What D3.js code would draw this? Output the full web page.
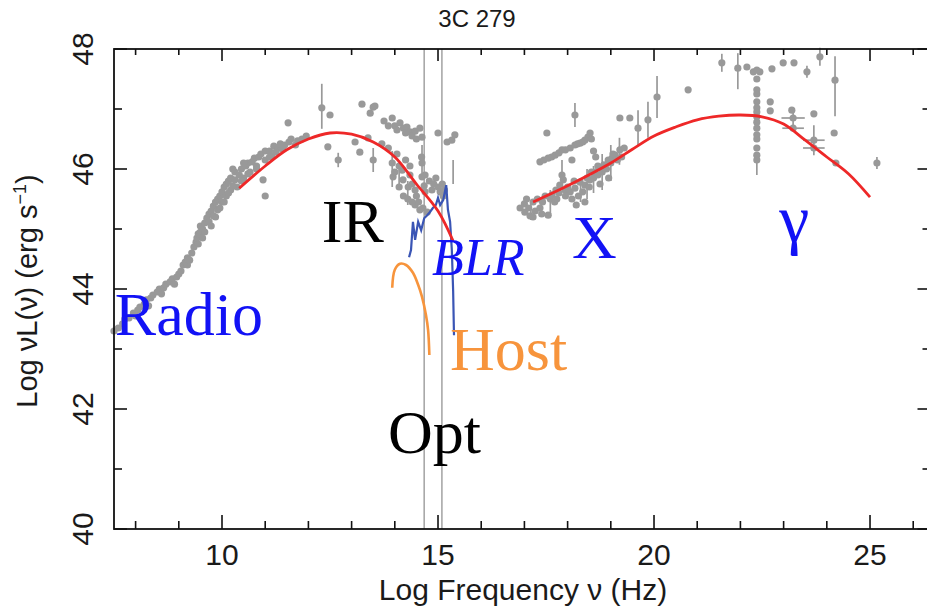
<!DOCTYPE html>
<html>
<head>
<meta charset="utf-8">
<script src="https://cdn.jsdelivr.net/npm/d3@7"></script>
<style>
  html, body { margin: 0; padding: 0; background: #fff; }
  svg { display: block; }
</style>
</head>
<body>
<div id="chart"></div>
<script>
// SED of 3C 279: log frequency (Hz) vs log nu L(nu) (erg/s)

const sedPoints = [
  [7.5, 43.3], [7.6, 43.35], [7.7, 43.42], [7.75, 43.5], [7.85, 43.52], [7.95, 43.6],
  [8.05, 43.65], [8.1, 43.7], [8.2, 43.75], [8.25, 43.82], [8.35, 43.85], [8.4, 43.9],
  [8.5, 43.95], [8.55, 44.0], [8.65, 44.02], [8.7, 44.08], [8.8, 44.12], [8.85, 44.17],
  [8.95, 44.2], [9.0, 44.25], [9.05, 44.3], [9.1, 44.4], [9.15, 44.45], [9.2, 44.52],
  [9.2, 44.4], [9.3, 44.6], [9.35, 44.7], [9.4, 44.78], [9.42, 44.85], [9.45, 44.92],
  [9.5, 44.95], [9.5, 45.05], [9.55, 45.0], [9.6, 45.1], [9.6, 44.95], [9.65, 45.18],
  [9.7, 45.25], [9.7, 45.12], [9.75, 45.3], [9.8, 45.38], [9.8, 45.22], [9.85, 45.45],
  [9.9, 45.5], [9.9, 45.32], [9.95, 45.55], [10.0, 45.62], [10.0, 45.45], [10.05, 45.7],
  [10.1, 45.75], [10.1, 45.55], [10.15, 45.8], [10.2, 45.65], [10.2, 45.85], [10.3, 45.82],
  [10.3, 45.95], [10.35, 45.7], [10.4, 45.9], [10.45, 46.0], [10.5, 45.85], [10.55, 46.05],
  [10.6, 46.1], [10.65, 45.95], [10.7, 46.12], [10.75, 46.18], [10.8, 46.05], [10.85, 46.2],
  [10.9, 46.25], [11.0, 46.15], [11.0, 46.3], [11.1, 46.3], [11.15, 46.22], [11.2, 46.38],
  [11.3, 46.35], [11.35, 46.42], [11.45, 46.4], [11.55, 46.45], [11.6, 46.5], [11.75, 46.47],
  [11.85, 46.5], [11.95, 46.55],
  [8.0, 43.55], [8.3, 43.72], [8.6, 43.92], [8.9, 44.08], [9.25, 44.48], [9.45, 44.75],
  [9.55, 44.85], [9.75, 45.05], [9.85, 45.2], [9.95, 45.35], [10.05, 45.45], [10.15, 45.6],
  [10.25, 45.72], [10.45, 45.8], [10.6, 45.92], [10.8, 46.0], [11.1, 46.2], [11.25, 46.28],
  [11.4, 46.33], [11.7, 46.4], [10.5, 46.1], [10.25, 46.0],
  [10.95, 45.82], [11.0, 45.55], [11.53, 46.77], [12.31, 47.02], [12.5, 46.9], [12.45, 46.37],
  [12.69, 46.15], [13.08, 46.45], [13.19, 46.28], [13.24, 47.08], [13.43, 46.93], [13.5, 47.03],
  [13.54, 47.05], [13.5, 46.15], [13.38, 46.52], [13.94, 46.85], [14.12, 46.77], [14.28, 46.7],
  [14.35, 46.62], [14.47, 46.63], [14.58, 46.68], [14.63, 46.53], [13.94, 46.1], [13.96, 45.87],
  [14.17, 45.98], [14.19, 45.82], [14.31, 45.7], [14.47, 45.65], [14.4, 45.75], [14.63, 46.1],
  [14.63, 45.87], [14.68, 45.72], [14.7, 45.62], [14.86, 45.65], [15.0, 45.7], [15.05, 45.62],
  [15.0, 46.6], [15.21, 46.45], [15.32, 46.48], [15.39, 46.57], [14.47, 45.4], [14.58, 45.32],
  [14.65, 45.35], [14.75, 45.28], [14.55, 45.45], [14.62, 46.2], [14.7, 45.9], [14.8, 45.8],
  [14.9, 45.75], [14.95, 45.85], [15.1, 45.75], [15.15, 45.65], [15.12, 45.55],
  [13.7, 46.42], [13.85, 46.35], [14.05, 46.25], [14.25, 46.15], [14.35, 46.05],
  [13.75, 46.8], [13.85, 46.72], [14.0, 46.72], [14.05, 46.65], [14.2, 46.68], [14.25, 46.6],
  [14.4, 46.55], [14.5, 46.5], [14.1, 45.7], [14.2, 45.55], [14.3, 45.5], [14.4, 45.45],
  [14.5, 45.55], [14.35, 45.9], [14.0, 45.95], [14.1, 46.05],
  // X-ray
  [17.36, 46.12], [17.45, 46.15], [17.55, 46.18], [17.63, 46.2], [17.71, 46.23], [17.8, 46.27],
  [17.87, 46.32], [17.95, 46.32], [18.06, 46.35], [18.1, 46.15], [18.17, 46.4], [18.23, 46.42],
  [18.29, 46.43], [18.35, 46.45], [18.4, 46.48], [18.47, 46.53], [18.52, 46.6], [18.55, 46.5],
  [18.6, 46.3], [18.65, 46.2],
  [17.52, 46.6], [18.17, 46.9], [19.21, 46.85], [19.44, 46.85], [19.63, 46.68], [19.86, 46.82],
  [20.07, 47.2], [20.79, 47.32],
  [16.9, 45.35], [17.0, 45.42], [17.01, 45.28], [17.1, 45.35], [17.13, 45.22], [17.2, 45.45],
  [17.25, 45.3], [17.3, 45.5], [17.36, 45.35], [17.42, 45.45], [17.48, 45.55], [17.55, 45.23],
  [17.6, 45.5], [17.64, 45.57], [17.7, 45.45], [17.73, 45.65], [17.8, 45.6], [17.82, 45.73],
  [17.87, 45.9], [17.9, 45.82], [17.94, 45.65], [18.0, 45.7], [18.06, 45.62], [18.1, 45.5],
  [18.17, 45.68], [18.25, 45.55], [18.29, 45.78], [18.35, 45.62], [18.4, 45.73], [18.5, 45.7],
  [18.52, 45.82], [18.6, 45.85], [18.63, 45.95], [18.7, 45.9], [18.75, 46.02], [18.8, 45.95],
  [18.84, 46.07], [18.9, 46.0], [18.94, 46.15], [19.0, 46.1], [19.03, 46.18], [19.1, 46.23],
  [19.15, 46.15], [19.21, 46.32], [19.31, 46.35],
  [17.05, 45.5], [17.2, 45.2], [17.4, 45.25], [17.75, 45.5], [17.95, 45.55], [18.15, 45.8],
  [18.45, 45.85], [18.55, 45.95], [18.7, 46.05], [19.05, 46.25], [19.25, 46.2], [18.95, 45.85],
  [18.75, 45.75], [18.4, 45.45], [18.2, 45.4],
  // gamma-ray
  [21.57, 47.77], [21.94, 47.68], [22.15, 47.7], [22.3, 47.62], [22.45, 47.62],
  [22.38, 47.65], [22.38, 47.5], [22.38, 47.32], [22.38, 47.25], [22.38, 47.12], [22.38, 47.02],
  [22.38, 46.95], [22.38, 46.87], [22.38, 46.78], [22.38, 46.68], [22.38, 46.57], [22.38, 46.5],
  [22.38, 46.35], [22.38, 46.23], [22.38, 46.15],
  [22.73, 47.67], [22.99, 47.77], [23.24, 47.77], [23.54, 47.62], [23.84, 47.87], [24.19, 47.48],
  [22.69, 47.12], [22.69, 46.97], [23.22, 46.85], [23.22, 46.68], [23.19, 46.98], [23.7, 46.48],
  [23.7, 46.35], [23.7, 46.92], [24.17, 46.6], [24.21, 46.1], [25.16, 46.1]
]

// vertical error bars: [logNu, logL, minus, plus]
const sedErrY = [
  [12.31, 47.02, 0.35, 0.4], [12.69, 46.15, 0.12, 0.12], [13.5, 46.15, 0.2, 0.2],
  [13.94, 46.0, 0.3, 0.3], [14.63, 46.1, 0.25, 0.3], [15.35, 45.95, 0.2, 0.2],
  [14.3, 45.6, 0.2, 0.2], [14.1, 45.85, 0.2, 0.2],
  [17.15, 45.3, 0.15, 0.15], [17.87, 45.9, 0.25, 0.25], [18.17, 46.9, 0.2, 0.2],
  [18.6, 45.85, 0.25, 0.2], [18.8, 45.95, 0.3, 0.3], [19.0, 46.1, 0.3, 0.3],
  [19.2, 46.32, 0.25, 0.2], [19.63, 46.68, 0.3, 0.3], [19.86, 46.82, 0.3, 0.3],
  [18.45, 45.75, 0.25, 0.25], [17.6, 45.45, 0.2, 0.2], [18.3, 45.65, 0.2, 0.2],
  [20.07, 47.2, 0.35, 0.35], [21.57, 47.77, 0.15, 0.15], [21.94, 47.68, 0.35, 0.25],
  [22.38, 46.15, 0.25, 0.0], [23.54, 47.62, 0.1, 0.1], [23.84, 47.87, 0.15, 0.15],
  [24.19, 47.48, 0.6, 0.4], [23.22, 46.85, 0.15, 0.15], [23.7, 46.48, 0.25, 0.25],
  [25.16, 46.1, 0.1, 0.1]
]

// horizontal error bars: [logNu, logL, halfWidth]
const sedErrX = [
  [23.22, 46.85, 0.27], [23.22, 46.68, 0.25], [23.7, 46.48, 0.25], [23.7, 46.35, 0.25]
]

// model curves
const syncCurve = [
  [10.4, 45.68], [11.0, 46.05], [11.5, 46.32], [12.0, 46.5], [12.5, 46.6], [13.0, 46.58],
  [13.5, 46.45], [14.0, 46.2], [14.5, 45.75], [15.0, 45.3], [15.35, 44.8]
]
const icCurve = [
  [17.2, 45.45], [18.0, 45.72], [19.0, 46.1], [19.5, 46.33], [20.0, 46.55], [20.5, 46.7],
  [21.0, 46.82], [21.5, 46.88], [22.0, 46.9], [22.5, 46.87], [23.0, 46.75], [23.5, 46.48],
  [24.0, 46.2], [24.5, 45.92], [25.0, 45.53]
]
const blrSpectrum = [
  [14.33, 44.53], [14.375, 44.65], [14.42, 45.12], [14.47, 44.82], [14.54, 45.12], [14.61, 44.98],
  [14.68, 45.18], [14.75, 45.23], [14.81, 45.28], [14.88, 45.35], [14.95, 45.4], [15.0, 45.52],
  [15.05, 45.4], [15.12, 45.48], [15.19, 45.73], [15.23, 45.32], [15.28, 45.12], [15.32, 44.65],
  [15.35, 43.98], [15.37, 43.23]
]
const hostSpectrum = [
  [13.94, 44.02], [14.0, 44.32], [14.12, 44.42], [14.26, 44.4], [14.42, 44.27], [14.54, 44.07],
  [14.63, 43.87], [14.72, 43.57], [14.77, 43.32], [14.8, 42.9]
]

const bandEdges = [14.68, 15.09]
const xMajor = [10, 15, 20, 25]
const yMajor = [40, 42, 44, 46, 48]

// annotations: [text, logNu, logL, colour, italic, size]
const labels = [
  ['Radio', 7.52, 43.23, '#1212f5', false, 62],
  ['IR', 12.31, 44.78, '#000', false, 62],
  ['BLR', 14.86, 44.23, '#1212f5', true, 52],
  ['Host', 15.28, 42.65, '#f7943c', false, 62],
  ['Opt', 13.84, 41.27, '#000', false, 62],
  ['X', 18.1, 44.52, '#1212f5', false, 62],
  ['\u03b3', 22.9, 44.78, '#1212f5', false, 68]
]

const width = 927
const height = 610
const plot = { left: 114, right: 930.5, top: 49, bottom: 529 }

const svg = d3.select('#chart').append('svg')
  .attr('width', width)
  .attr('height', height)
  .style('font-family', '"Liberation Sans", Arial, sans-serif')

svg.append('rect').attr('width', width).attr('height', height).attr('fill', '#fff')

const x = d3.scaleLinear().domain([7.5, 26.4]).range([plot.left, plot.right])
const y = d3.scaleLinear().domain([40, 48]).range([plot.bottom, plot.top])

const grey = '#999'

// optical band markers
svg.append('g').selectAll('line')
  .data(bandEdges)
  .join('line')
  .attr('x1', d => x(d)).attr('x2', d => x(d))
  .attr('y1', plot.top).attr('y2', plot.bottom)
  .attr('stroke', '#a8a8a8')
  .attr('stroke-width', 1.6)

// error bars
const eg = svg.append('g').attr('stroke', grey).attr('stroke-width', 1.7)
eg.selectAll('.ey')
  .data(sedErrY)
  .join('line')
  .attr('class', 'ey')
  .attr('x1', d => x(d[0])).attr('x2', d => x(d[0]))
  .attr('y1', d => y(d[1] - d[2])).attr('y2', d => y(d[1] + d[3]))
eg.selectAll('.ex')
  .data(sedErrX)
  .join('line')
  .attr('class', 'ex')
  .attr('x1', d => x(d[0] - d[2])).attr('x2', d => x(d[0] + d[2]))
  .attr('y1', d => y(d[1])).attr('y2', d => y(d[1]))

// data points
svg.append('g').selectAll('circle')
  .data(sedPoints)
  .join('circle')
  .attr('cx', d => x(d[0]))
  .attr('cy', d => y(d[1]))
  .attr('r', 3.6)
  .attr('fill', grey)

const line = d3.line()
  .x(d => x(d[0]))
  .y(d => y(d[1]))
const smooth = d3.line()
  .x(d => x(d[0]))
  .y(d => y(d[1]))
  .curve(d3.curveCatmullRom)

svg.append('path')
  .attr('d', smooth(hostSpectrum))
  .attr('fill', 'none').attr('stroke', '#f7943c').attr('stroke-width', 2.6)

svg.append('path').attr('d', line(blrSpectrum))
  .attr('fill', 'none').attr('stroke', '#3a55b5').attr('stroke-width', 2.2)

svg.selectAll('.model')
  .data([syncCurve, icCurve])
  .join('path')
  .attr('class', 'model')
  .attr('d', smooth)
  .attr('fill', 'none')
  .attr('stroke', '#ee2828')
  .attr('stroke-width', 2.8)

// frame and ticks
svg.append('rect')
  .attr('x', plot.left).attr('y', plot.top)
  .attr('width', plot.right - plot.left).attr('height', plot.bottom - plot.top)
  .attr('fill', 'none').attr('stroke', '#111').attr('stroke-width', 1.8)

const xTicks = d3.range(8, 27)
const yTicks = d3.range(40, 49)
const tg = svg.append('g').attr('stroke', '#111').attr('stroke-width', 1.6)

tg.selectAll('.xb').data(xTicks).join('line').attr('class', 'xb')
  .attr('x1', d => x(d)).attr('x2', d => x(d))
  .attr('y1', plot.bottom).attr('y2', d => plot.bottom - (xMajor.includes(d) ? 14 : 8))
tg.selectAll('.xt').data(xTicks).join('line').attr('class', 'xt')
  .attr('x1', d => x(d)).attr('x2', d => x(d))
  .attr('y1', plot.top).attr('y2', d => plot.top + (xMajor.includes(d) ? 12 : 6))
tg.selectAll('.yl').data(yTicks).join('line').attr('class', 'yl')
  .attr('y1', d => y(d)).attr('y2', d => y(d))
  .attr('x1', plot.left).attr('x2', d => plot.left + (yMajor.includes(d) ? 13 : 8))
tg.selectAll('.yr').data(yTicks).join('line').attr('class', 'yr')
  .attr('y1', d => y(d)).attr('y2', d => y(d))
  .attr('x1', plot.right).attr('x2', d => plot.right - (yMajor.includes(d) ? 13 : 8))

// tick labels
svg.append('g').selectAll('text')
  .data(xMajor)
  .join('text')
  .attr('x', d => x(d))
  .attr('y', 565)
  .attr('text-anchor', 'middle')
  .style('font-size', '30px')
  .attr('fill', '#1a1a1a')
  .text(d => d)

svg.append('g').selectAll('text')
  .data(yMajor)
  .join('text')
  .attr('transform', d => `translate(93, ${y(d)}) rotate(-90)`)
  .attr('text-anchor', 'middle')
  .style('font-size', '30px')
  .attr('fill', '#1a1a1a')
  .text(d => d)

// titles
svg.append('text')
  .attr('x', 477).attr('y', 27)
  .attr('text-anchor', 'middle')
  .style('font-size', '24px')
  .attr('fill', '#1a1a1a')
  .text('3C 279')

svg.append('text')
  .attr('x', 523).attr('y', 600)
  .attr('text-anchor', 'middle')
  .style('font-size', '30px')
  .attr('fill', '#1a1a1a')
  .text('Log Frequency \u03bd (Hz)')

const yt = svg.append('text')
  .attr('transform', 'translate(37, 291) rotate(-90)')
  .attr('text-anchor', 'middle')
  .style('font-size', '29px')
  .attr('fill', '#1a1a1a')
yt.append('tspan').text('Log \u03bdL(\u03bd) (erg s')
yt.append('tspan').attr('dy', -11).style('font-size', '18px').text('\u22121')
yt.append('tspan').attr('dy', 11).text(')')

// annotations
svg.append('g').selectAll('text')
  .data(labels)
  .join('text')
  .attr('x', d => x(d[1]))
  .attr('y', d => y(d[2]))
  .attr('fill', d => d[3])
  .style('font-family', '"Liberation Serif", "Times New Roman", serif')
  .style('font-style', d => d[4] ? 'italic' : 'normal')
  .style('font-size', d => d[5] + 'px')
  .text(d => d[0])
</script>
</body>
</html>
